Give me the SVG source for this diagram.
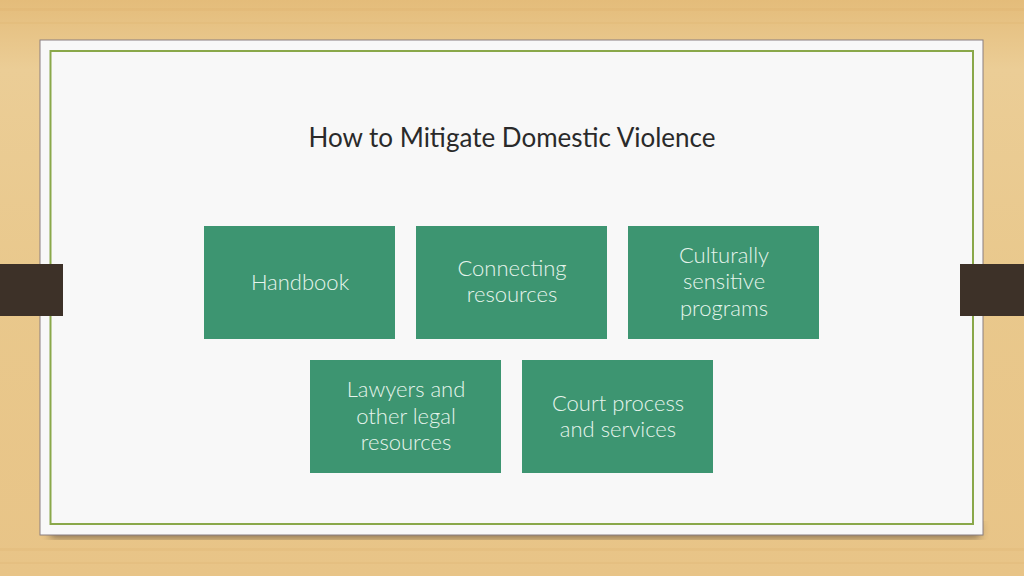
<svg xmlns="http://www.w3.org/2000/svg" width="1024" height="576" viewBox="0 0 1024 576">
<defs>
<linearGradient id="wood" x1="0" y1="0" x2="0" y2="1">
<stop offset="0" stop-color="#e4bc7a"/>
<stop offset="0.12" stop-color="#ebcd96"/>
<stop offset="0.5" stop-color="#e9c88c"/>
<stop offset="1" stop-color="#e8c487"/>
</linearGradient>
<filter id="sh" x="-5%" y="-5%" width="110%" height="115%">
<feGaussianBlur stdDeviation="4"/>
</filter>
<style>
.box{fill:#3d9571;}
.lbl{font-family:Lato,"Noto Sans",sans-serif;font-size:22px;fill:#e6f4ec;text-anchor:middle;font-weight:300;}
.title{font-family:Lato,"Noto Sans",sans-serif;font-size:26px;fill:#2a2a2a;text-anchor:middle;}
.tab{fill:#3d3128;}
</style>
</defs>
<rect width="1024" height="576" fill="url(#wood)"/>
<g opacity="0.15" fill="#d9a960">
<rect x="0" y="8" width="1024" height="3"/>
<rect x="0" y="22" width="1024" height="2"/>
<rect x="0" y="548" width="1024" height="3"/>
<rect x="0" y="562" width="1024" height="2"/>
</g>
<rect x="50" y="522" width="930" height="16" fill="#3a2e20" opacity="0.55" filter="url(#sh)"/>
<rect x="40" y="40" width="943" height="495" fill="#f8f8f8" stroke="#8a7f80" stroke-width="1"/>
<rect x="50.5" y="51" width="922.5" height="473" fill="none" stroke="#8aa84a" stroke-width="2"/>
<rect class="tab" x="0" y="264" width="63" height="52"/>
<rect class="tab" x="960" y="264" width="64" height="52"/>
<text class="title" x="512" y="147">How to Mitigate Domestic Violence</text>
<g id="n1"><rect class="box" x="204" y="226" width="191" height="113"/><text class="lbl" x="300" y="290">Handbook</text></g>
<g id="n2"><rect class="box" x="416" y="226" width="191" height="113"/><text class="lbl" x="512" y="276">Connecting</text><text class="lbl" x="512" y="302">resources</text></g>
<g id="n3"><rect class="box" x="628" y="226" width="191" height="113"/><text class="lbl" x="724" y="263">Culturally</text><text class="lbl" x="724" y="289">sensitive</text><text class="lbl" x="724" y="316">programs</text></g>
<g id="n4"><rect class="box" x="310" y="360" width="191" height="113"/><text class="lbl" x="406" y="397">Lawyers and</text><text class="lbl" x="406" y="424">other legal</text><text class="lbl" x="406" y="450">resources</text></g>
<g id="n5"><rect class="box" x="522" y="360" width="191" height="113"/><text class="lbl" x="618" y="411">Court process</text><text class="lbl" x="618" y="437">and services</text></g>
<g id="connectors"/>
</svg>
